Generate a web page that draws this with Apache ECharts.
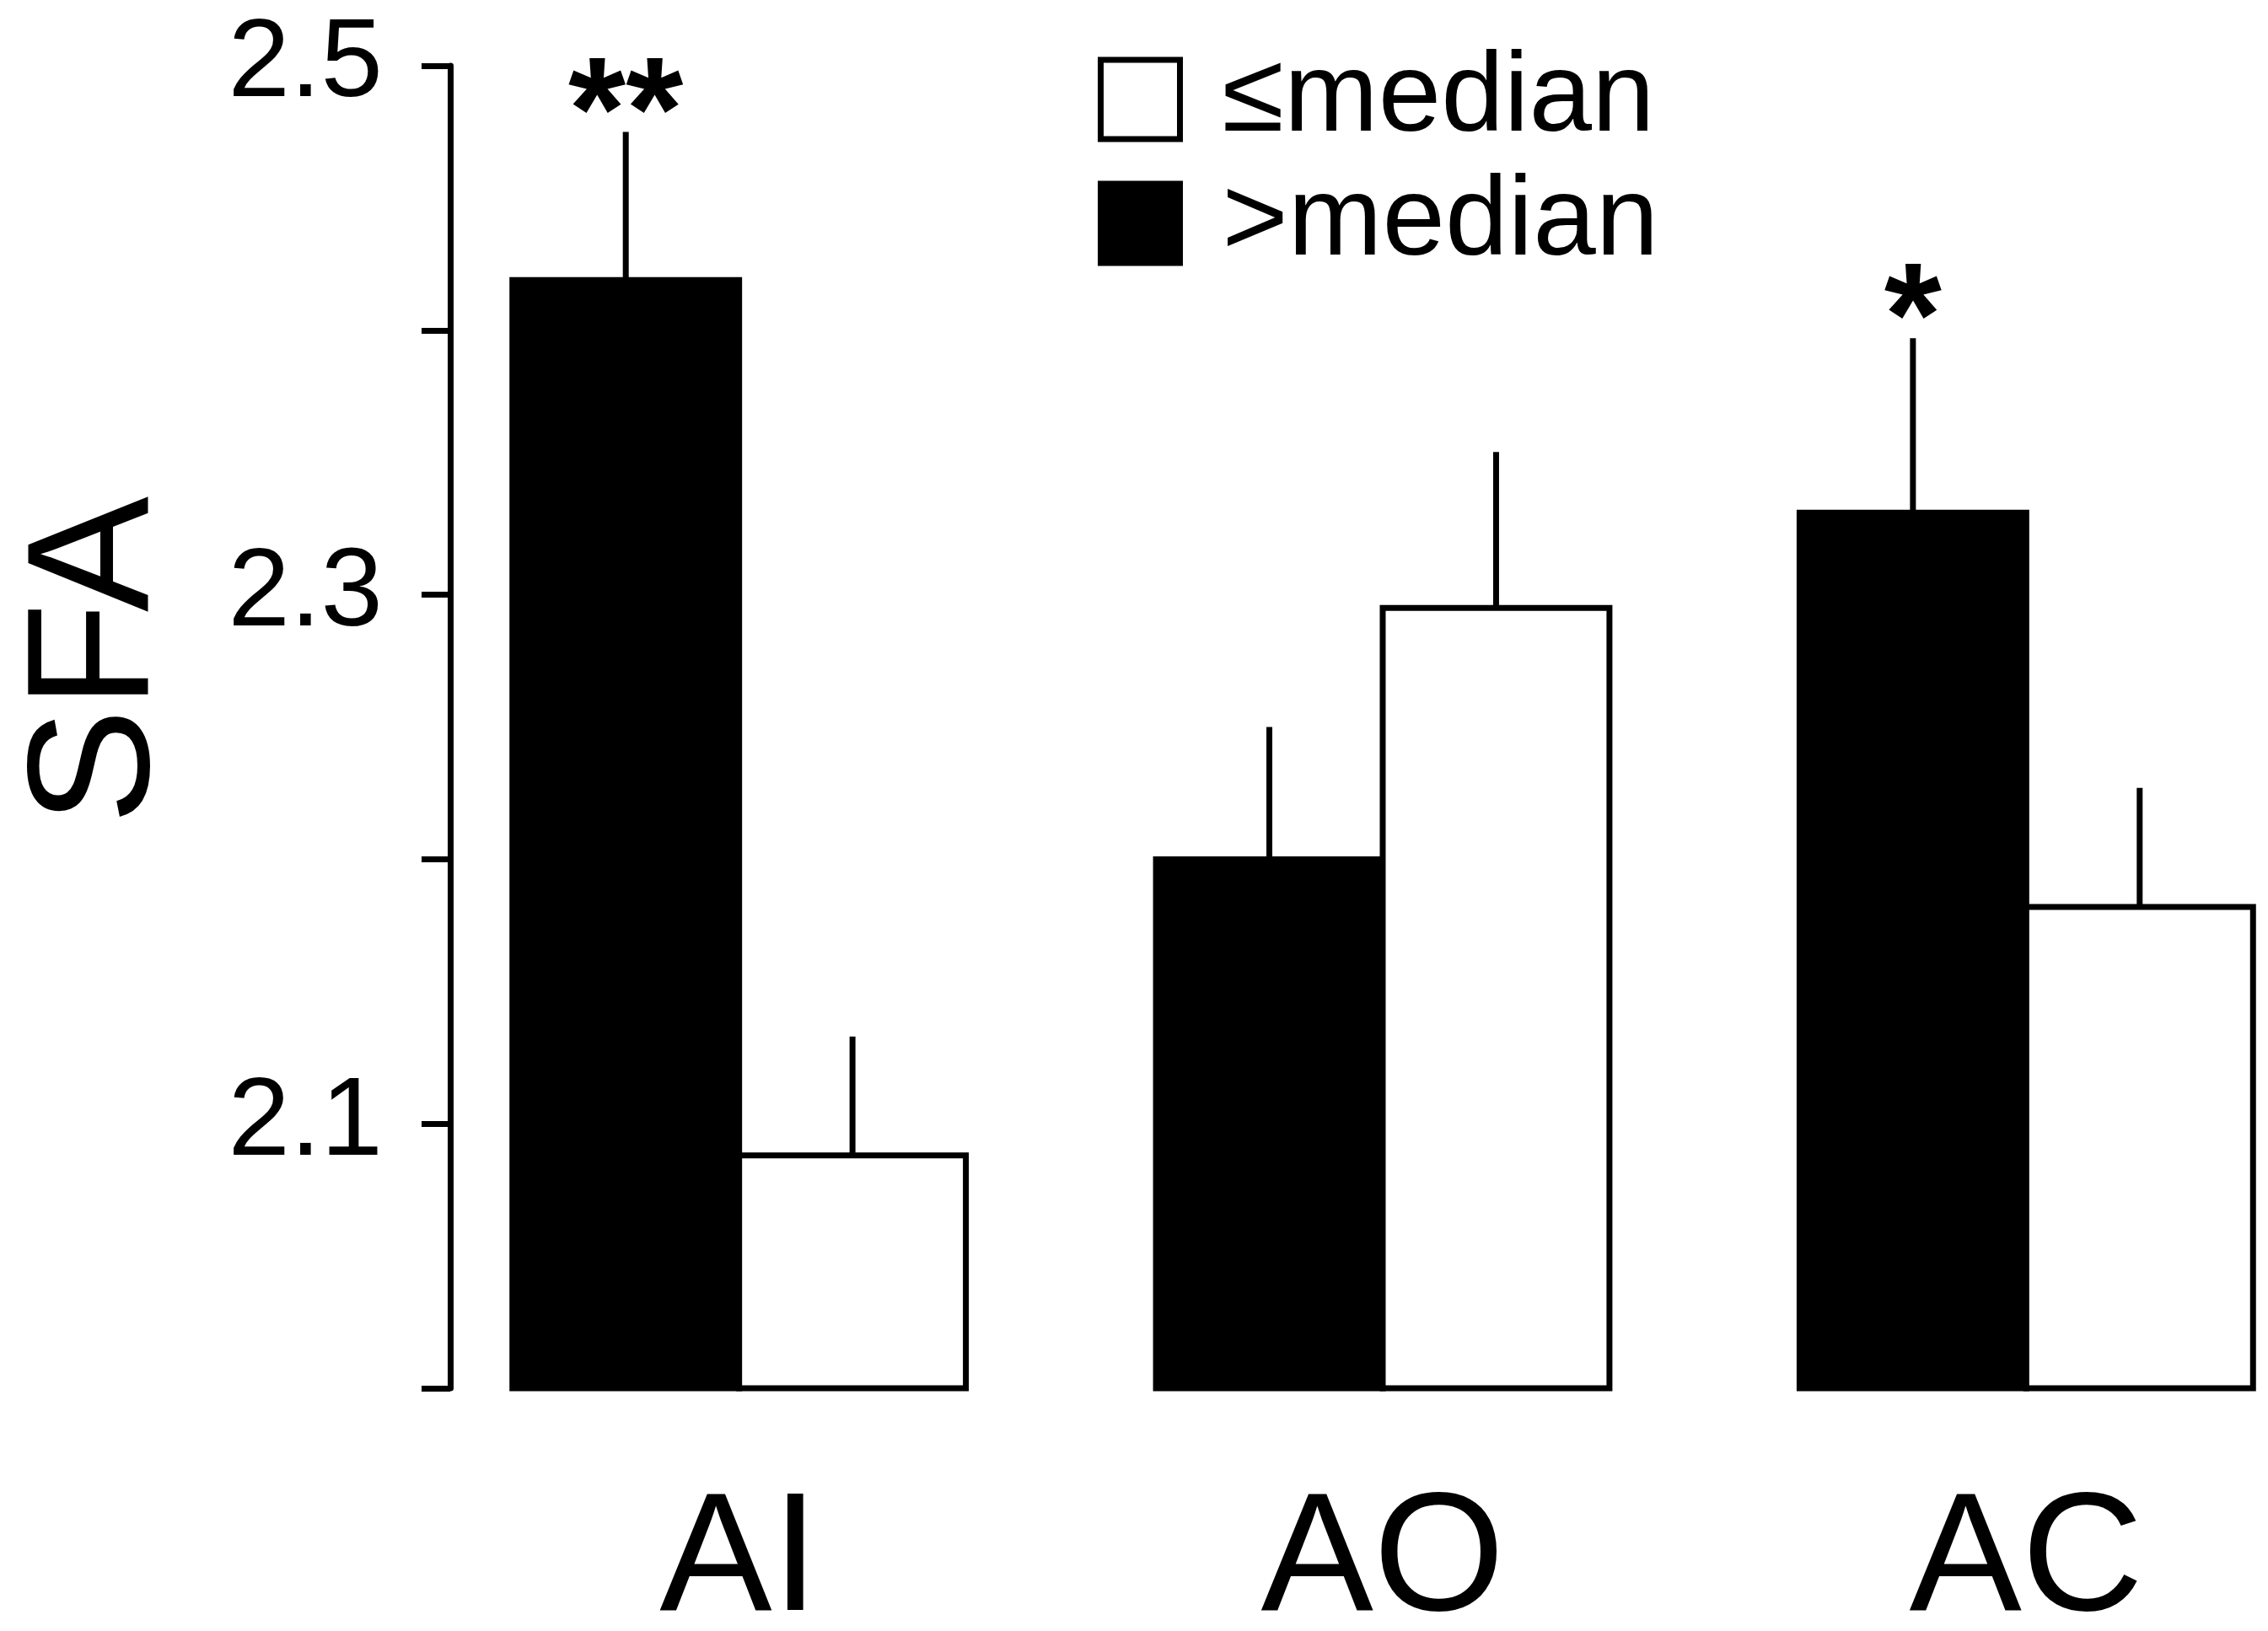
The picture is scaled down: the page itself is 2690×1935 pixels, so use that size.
<!DOCTYPE html>
<html><head><meta charset="utf-8">
<style>html,body{margin:0;padding:0;background:#fff}#c{width:2690px;height:1935px}</style>
<script src="https://cdn.jsdelivr.net/npm/echarts@6/dist/echarts.min.js"></script>
</head><body><div id="c"></div>
<script>
// ---- data ----
const categories = ['AI', 'AO', 'AC'];
const aboveMedian = [2.419, 2.200, 2.331];
const aboveMedianErr = [0.056, 0.050, 0.066];
const belowMedian = [2.088, 2.295, 2.182];
const belowMedianErr = [0.045, 0.059, 0.045];
const aboveSig = ['**', '', '*'];
const belowSig = ['', '', ''];
const yTickLabels = ['2.1', '2.3', '2.5'];
const yMin = 2.0, yMax = 2.5, yStep = 0.1;
const nameAbove = '>median';
const nameBelow = '\u2264median';

// ---- style ----
const FONT = "'Liberation Sans', Arial, Helvetica, sans-serif";
const BAR_RATIO = 0.3523;
const LINE_W = 7;

function rows(vals, errs) { return vals.map((v, i) => [i, v, errs[i]]); }

function makeRender(side, fill, sigs) {
  return function (params, api) {
    const i = api.value(0), v = api.value(1), e = api.value(2);
    const band = api.size([1, 0])[0];
    const bw = band * BAR_RATIO;
    const top = api.coord([i, v]);
    const base = api.coord([i, yMin]);
    const errTop = api.coord([i, v + e]);
    const x0 = side < 0 ? top[0] - bw : top[0];
    const cx = x0 + bw / 2;
    const children = [
      { type: 'rect', shape: { x: x0, y: top[1], width: bw, height: base[1] - top[1] },
        style: { fill: fill, stroke: '#000', lineWidth: LINE_W } },
      { type: 'line', shape: { x1: cx, y1: top[1], x2: cx, y2: errTop[1] },
        style: { stroke: '#000', lineWidth: LINE_W } }
    ];
    const sig = sigs[params.dataIndex];
    if (sig) {
      children.push({ type: 'text', x: cx, y: errTop[1] - 16,
        style: { text: sig, fontSize: 175, fontWeight: 'bold', fontFamily: FONT, fill: '#000',
                 align: 'center', verticalAlign: 'middle' } });
    }
    return { type: 'group', children: children };
  };
}

const chart = echarts.init(document.getElementById('c'), null, { renderer: 'canvas' });
chart.setOption({
  animation: false,
  backgroundColor: '#fff',
  grid: { left: 495, right: -95, top: 78, bottom: 288, containLabel: false, outerBoundsMode: 'none' },
  legend: {
    orient: 'vertical', left: 1302, top: 51, padding: 0,
    itemWidth: 94, itemHeight: 94, itemGap: 13, selectedMode: false,
    data: [
      { name: nameBelow, icon: 'rect', itemStyle: { color: '#fff', borderColor: '#000', borderWidth: 7 } },
      { name: nameAbove, icon: 'rect', itemStyle: { color: '#000', borderColor: '#000', borderWidth: 7 } }
    ],
    textStyle: { fontSize: 134, fontFamily: FONT, color: '#000', padding: [0, 0, 0, 45] }
  },
  xAxis: {
    type: 'category', data: categories,
    axisLine: { show: false }, axisTick: { show: false },
    axisLabel: { fontSize: 200, fontFamily: FONT, color: '#000', margin: 108 }
  },
  yAxis: {
    type: 'value', min: yMin, max: yMax, interval: yStep, offset: -39,
    name: 'SFA', nameLocation: 'middle', nameGap: 312, nameRotate: 90,
    nameTextStyle: { fontSize: 206, fontFamily: FONT, color: '#000', padding: [0, 0, 0, 158] },
    axisLine: { show: true, lineStyle: { color: '#000', width: 7 } },
    axisTick: { show: true, length: 34, lineStyle: { color: '#000', width: 7 } },
    axisLabel: { fontSize: 132, fontFamily: FONT, color: '#000', margin: 80,
      formatter: v => yTickLabels.includes(v.toFixed(1)) ? v.toFixed(1) : '' },
    splitLine: { show: false }
  },
  series: [
    { name: nameAbove, type: 'custom', itemStyle: { color: '#000' },
      encode: { x: 0, y: 1 }, data: rows(aboveMedian, aboveMedianErr),
      renderItem: makeRender(-1, '#000', aboveSig) },
    { name: nameBelow, type: 'custom', itemStyle: { color: '#fff', borderColor: '#000' },
      encode: { x: 0, y: 1 }, data: rows(belowMedian, belowMedianErr),
      renderItem: makeRender(1, '#fff', belowSig) }
  ]
});
</script></body></html>
